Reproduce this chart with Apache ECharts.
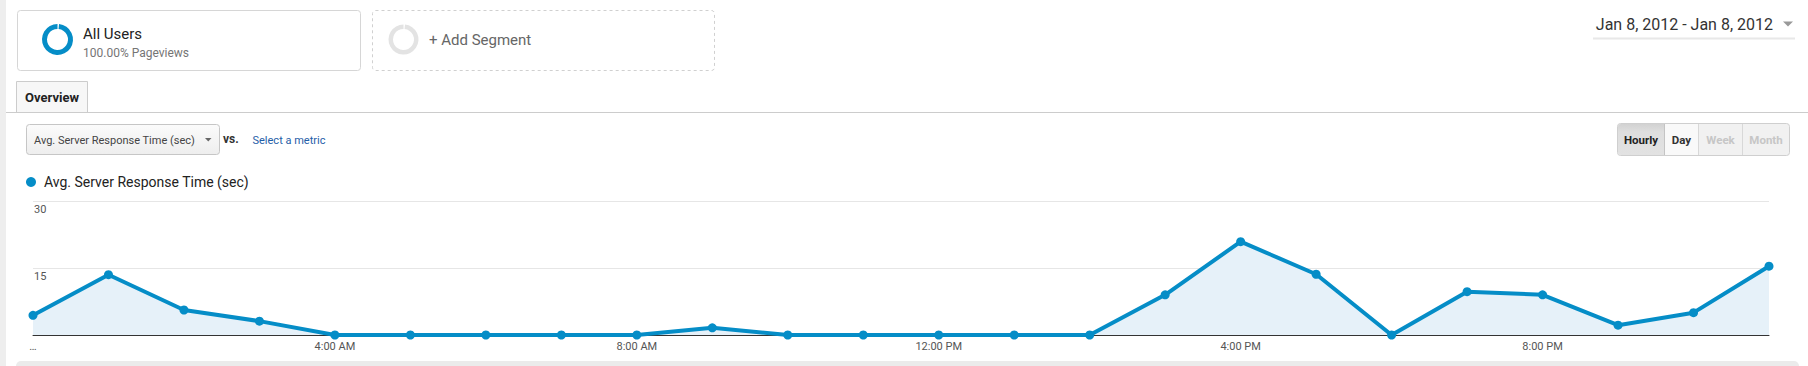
<!DOCTYPE html>
<html>
<head>
<meta charset="utf-8">
<title>Avg. Server Response Time</title>
<script src="https://cdn.jsdelivr.net/npm/echarts@6/dist/echarts.min.js"></script>
<style>
  html, body { margin: 0; padding: 0; background: #fff; }
  #chart { width: 1808px; height: 366px; }
</style>
</head>
<body>
<div id="chart"></div>
<script>
var chartDom = document.getElementById("chart");
var chart = echarts.init(chartDom, null, { renderer: "svg" });

// hourly buckets for Jan 8, 2012
const hours = [
  "12:00 AM", "1:00 AM", "2:00 AM", "3:00 AM", "4:00 AM", "5:00 AM",
  "6:00 AM", "7:00 AM", "8:00 AM", "9:00 AM", "10:00 AM", "11:00 AM",
  "12:00 PM", "1:00 PM", "2:00 PM", "3:00 PM", "4:00 PM", "5:00 PM",
  "6:00 PM", "7:00 PM", "8:00 PM", "9:00 PM", "10:00 PM", "11:00 PM",
];
const xTickLabels = [
  "…", "", "", "", "4:00 AM", "", "", "", "8:00 AM", "", "", "",
  "12:00 PM", "", "", "", "4:00 PM", "", "", "", "8:00 PM", "", "", "",
];
const responseTime = [
  4.4, 13.5, 5.6, 3.1, 0, 0, 0, 0, 0, 1.6, 0, 0,
  0, 0, 0, 9.0, 20.9, 13.6, 0, 9.7, 9.0, 2.2, 5.0, 15.4,
];
const yTicks = [0, 15, 30];

const metricName = "Avg. Server Response Time (sec)";
const blue = "#058DC7";
const font = "Roboto";

function txt(x, y, text, size, color, extra) {
  return {
    type: "text",
    x: x,
    y: y,
    style: Object.assign(
      {
        text: text,
        fontSize: size,
        fontFamily: font,
        fill: color,
        verticalAlign: "middle",
      },
      extra || {}
    ),
    silent: true,
  };
}

// the page chrome around the chart (segment boxes, tab, selectors)
var graphics = [
  // left gutter
  { type: "rect", shape: { x: 0, y: 0, width: 6, height: 366 }, style: { fill: "#eeeeee" } },
  // All Users segment
  {
    type: "rect",
    shape: { x: 17.5, y: 10.5, width: 343, height: 60, r: 3 },
    style: { fill: "#fff", stroke: "#d6d6d6", lineWidth: 1 },
  },
  {
    type: "sector",
    shape: { cx: 57.5, cy: 39.5, r: 15.5, r0: 10.5, startAngle: -Math.PI / 2 + 0.1, endAngle: Math.PI * 1.5 },
    style: { fill: blue },
  },
  txt(83, 34, "All Users", 15, "#222"),
  txt(83, 52.5, "100.00% Pageviews", 12, "#757575"),
  // Add Segment
  {
    type: "rect",
    shape: { x: 372.5, y: 10.5, width: 342, height: 60, r: 3 },
    style: { fill: "none", stroke: "#d0d0d0", lineWidth: 1, lineDash: [3, 3] },
  },
  {
    type: "sector",
    shape: { cx: 403.5, cy: 39.5, r: 15, r0: 10.5, startAngle: -Math.PI / 2 + 0.1, endAngle: Math.PI * 1.5 },
    style: { fill: "#e3e3e3" },
  },
  txt(429, 39.5, "+ Add Segment", 15, "#666"),
  // date range
  txt(1773, 24, "Jan 8, 2012 - Jan 8, 2012", 16, "#333", { textAlign: "right" }),
  {
    type: "polygon",
    shape: { points: [[1783, 21.5], [1793, 21.5], [1788, 26.5]] },
    style: { fill: "#999" },
  },
  {
    type: "line",
    shape: { x1: 1593, y1: 38.5, x2: 1795, y2: 38.5 },
    style: { stroke: "#e8e8e8", lineWidth: 2 },
  },
  // tab strip
  {
    type: "rect",
    shape: { x: 16.5, y: 81.5, width: 71, height: 31 },
    style: { fill: "#f7f7f7", stroke: "#cccccc", lineWidth: 1 },
  },
  txt(52, 97.5, "Overview", 13, "#222", { fontWeight: "bold", textAlign: "center" }),
  {
    type: "line",
    shape: { x1: 6, y1: 112.5, x2: 1808, y2: 112.5 },
    style: { stroke: "#cccccc", lineWidth: 1 },
  },
  // metric picker
  {
    type: "rect",
    shape: { x: 26.5, y: 124.5, width: 193, height: 30, r: 3 },
    style: {
      fill: new echarts.graphic.LinearGradient(0, 0, 0, 1, [
        { offset: 0, color: "#fbfbfb" },
        { offset: 1, color: "#eeeeee" },
      ]),
      stroke: "#c6c6c6",
      lineWidth: 1,
    },
  },
  txt(34, 140, metricName, 11, "#444"),
  {
    type: "polygon",
    shape: { points: [[205, 138], [211.5, 138], [208.25, 141.5]] },
    style: { fill: "#666" },
  },
  txt(223, 139, "vs.", 12, "#333", { fontWeight: "bold" }),
  txt(252.5, 140, "Select a metric", 11, "#1f5ea8"),
  // Hourly / Day / Week / Month
  {
    type: "rect",
    shape: { x: 1617.5, y: 123.5, width: 172, height: 32, r: 3 },
    style: { fill: "#f1f1f1", stroke: "#cfcfcf", lineWidth: 1 },
  },
  {
    type: "rect",
    shape: { x: 1618, y: 124, width: 46, height: 31, r: [3, 0, 0, 3] },
    style: {
      fill: new echarts.graphic.LinearGradient(0, 0, 0, 1, [
        { offset: 0, color: "#d2d2d2" },
        { offset: 0.25, color: "#dedede" },
        { offset: 1, color: "#e2e2e2" },
      ]),
    },
  },
  { type: "rect", shape: { x: 1664.5, y: 124, width: 34, height: 31 }, style: { fill: "#f9f9f9" } },
  { type: "line", shape: { x1: 1664.5, y1: 124, x2: 1664.5, y2: 155 }, style: { stroke: "#c4c4c4" } },
  { type: "line", shape: { x1: 1698.5, y1: 124, x2: 1698.5, y2: 155 }, style: { stroke: "#d8d8d8" } },
  { type: "line", shape: { x1: 1742.5, y1: 124, x2: 1742.5, y2: 155 }, style: { stroke: "#d8d8d8" } },
  txt(1641, 140, "Hourly", 11.5, "#222", { fontWeight: "bold", textAlign: "center" }),
  txt(1681.5, 140, "Day", 11.5, "#333", { fontWeight: "bold", textAlign: "center" }),
  txt(1720.5, 140, "Week", 11.5, "#c6c6c6", { fontWeight: "bold", textAlign: "center" }),
  txt(1766, 140, "Month", 11.5, "#c6c6c6", { fontWeight: "bold", textAlign: "center" }),
  // bottom panel edge
  {
    type: "rect",
    shape: { x: 16, y: 361, width: 1783, height: 20, r: 5 },
    style: { fill: "#ebebeb" },
  },
];

var option = {
  animation: false,
  backgroundColor: "#fff",
  textStyle: { fontFamily: font },
  legend: {
    data: [metricName],
    left: 26,
    top: 175,
    padding: 0,
    icon: "circle",
    itemWidth: 10,
    itemHeight: 10,
    textStyle: { fontSize: 14, color: "#222", padding: [0, 0, 0, 3] },
  },
  grid: {
    left: 33,
    right: 39,
    top: 201,
    bottom: 31,
  },
  xAxis: {
    type: "category",
    data: hours,
    boundaryGap: false,
    axisLine: { lineStyle: { color: "#333", width: 1 } },
    axisTick: { show: false },
    axisLabel: {
      interval: 0,
      margin: 6,
      fontSize: 11,
      color: "#555",
      formatter: function (v, i) {
        return xTickLabels[i];
      },
    },
  },
  yAxis: {
    type: "value",
    min: yTicks[0],
    max: yTicks[yTicks.length - 1],
    interval: yTicks[1] - yTicks[0],
    axisLine: { show: false },
    axisTick: { show: false },
    splitLine: { lineStyle: { color: "#e6e6e6", width: 1 } },
    axisLabel: {
      inside: true,
      showMinLabel: false,
      margin: 1,
      fontSize: 11,
      color: "#555",
      verticalAlign: "top",
      padding: [3, 0, 0, 0],
    },
  },
  series: [
    {
      name: metricName,
      type: "line",
      data: responseTime,
      color: blue,
      symbol: "circle",
      symbolSize: 9,
      showAllSymbol: true,
      clip: false,
      lineStyle: { width: 4, color: blue },
      itemStyle: { color: blue },
      areaStyle: { color: "#e6f1f9", opacity: 1 },
    },
  ],
  graphic: graphics,
};

chart.setOption(option);

window.addEventListener("resize", function () {
  chart.resize();
});
</script>
</body>
</html>
